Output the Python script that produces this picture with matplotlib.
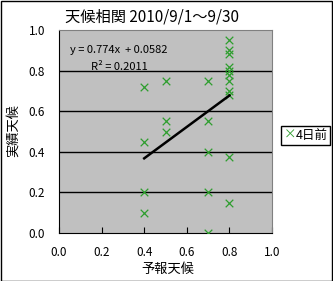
import matplotlib
matplotlib.use("Agg")
import matplotlib.pyplot as plt
from matplotlib.patches import Rectangle

plt.rcParams['font.family'] = ['Noto Sans CJK JP', 'DejaVu Sans']

# forecast (x) vs actual (y), 4 days ahead
forecast = [0.4, 0.4, 0.4, 0.4,
            0.5, 0.5, 0.5,
            0.7, 0.7, 0.7, 0.7, 0.7,
            0.8, 0.8, 0.8, 0.8, 0.8, 0.8, 0.8, 0.8, 0.8, 0.8, 0.8]
actual = [0.72, 0.45, 0.2, 0.1,
          0.75, 0.55, 0.5,
          0.75, 0.55, 0.4, 0.2, 0.0,
          0.95, 0.9, 0.88, 0.82, 0.8, 0.78, 0.75, 0.7, 0.68, 0.375, 0.15]

slope = 0.774
intercept = 0.0582
r2 = 0.2011
trend_x = [0.4, 0.8]

ticks = [0.0, 0.2, 0.4, 0.6, 0.8, 1.0]

W, H = 333, 281
fig = plt.figure(figsize=(W / 100, H / 100), dpi=100)
fig.patch.set_facecolor('white')
fig.patches.append(Rectangle((0.5 / W, 0.5 / H), 1 - 1.5 / W, 1 - 1.5 / H,
                             transform=fig.transFigure, fill=False,
                             edgecolor='black', lw=1))

ax = fig.add_axes([59 / W, (H - 233) / H, (272 - 59) / W, (233 - 30) / H])
ax.set_facecolor('#C0C0C0')
ax.set_xlim(0, 1)
ax.set_ylim(0, 1)

for v in ticks[1:-1]:
    ax.axhline(v, color='black', lw=1, zorder=1)

ax.scatter(forecast, actual, marker='x', color='#2E9E2E', s=30, lw=0.9, zorder=3)
trend_y = [slope * x + intercept for x in trend_x]
ax.plot(trend_x, trend_y, color='black', lw=1.8, zorder=4)

ax.set_xticks(ticks)
ax.set_yticks(ticks)
ax.set_xticklabels([f"{t:.1f}" for t in ticks], fontsize=8.5)
ax.set_yticklabels([f"{t:.1f}" for t in ticks], fontsize=8.5)
ax.tick_params(axis='x', direction='in', length=4, pad=9)
ax.tick_params(axis='y', length=0, pad=10)

for side in ['left', 'bottom']:
    ax.spines[side].set_color('black')
for side in ['top', 'right']:
    ax.spines[side].set_color('#808080')

ax.text(0.05, 0.9, f"y = {slope}x  + {intercept}", fontsize=8, transform=ax.transAxes,
        va='center')
ax.text(0.15, 0.82, f"R² = {r2}", fontsize=8, transform=ax.transAxes, va='center')

fig.text(152 / W, 1 - 17 / H, "天候相関 2010/9/1～9/30", fontsize=11,
         ha='center', va='center')
fig.text(168 / W, 1 - 269 / H, "予報天候", fontsize=9.5, ha='center', va='center')
fig.text(13 / W, 1 - 130 / H, "実績天候", fontsize=9.5, ha='center', va='center',
         rotation=90)

# legend box
fig.patches.append(Rectangle((281 / W, 1 - 145 / H), 49 / W, 19 / H,
                             transform=fig.transFigure, fill=False,
                             edgecolor='black', lw=1))
fig.text(290 / W, 1 - 135.5 / H, "×", color='#2E9E2E', fontsize=9,
         ha='center', va='center')
fig.text(296 / W, 1 - 135.5 / H, "4日前", fontsize=9, ha='left', va='center')

fig.savefig("out.png", dpi=100)
